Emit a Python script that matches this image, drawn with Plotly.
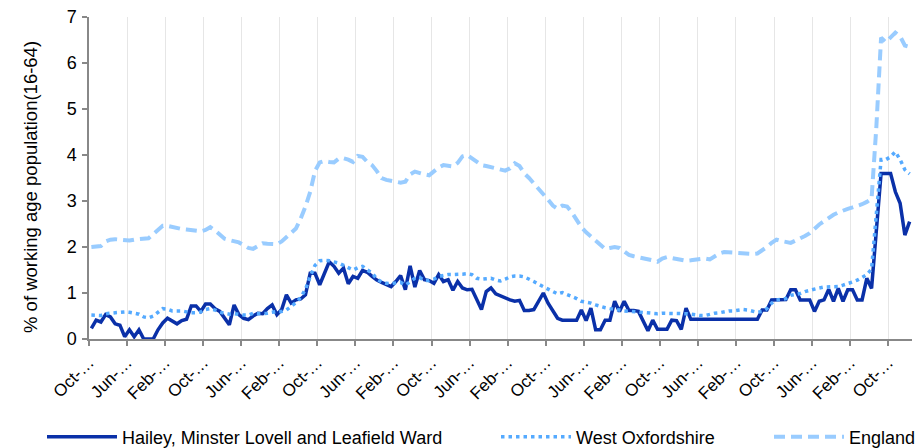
import plotly.graph_objects as go
import pandas as pd

# ---- categories (monthly) ----
months = [d.strftime("%b-%y") for d in pd.date_range("2006-10-01", periods=173, freq="MS")]

# ---- series values (% of working age population 16-64) ----
hailey = [
    0.23, 0.41, 0.37, 0.53, 0.48, 0.33, 0.30, 0.05, 0.20, 0.05,
    0.20, 0.00, 0.00, 0.00, 0.20, 0.35, 0.45, 0.38, 0.33, 0.40,
    0.43, 0.72, 0.72, 0.60, 0.76, 0.76, 0.66, 0.60, 0.45, 0.31,
    0.74, 0.53, 0.45, 0.42, 0.50, 0.56, 0.55, 0.66, 0.74, 0.53,
    0.64, 0.96, 0.78, 0.85, 0.87, 0.96, 1.43, 1.43, 1.18, 1.43,
    1.68, 1.58, 1.43, 1.54, 1.20, 1.36, 1.32, 1.49, 1.45, 1.36,
    1.28, 1.23, 1.18, 1.14, 1.25, 1.38, 1.07, 1.59, 1.13, 1.49,
    1.29, 1.27, 1.21, 1.40, 1.25, 1.29, 1.06, 1.25, 1.11, 1.07,
    1.08, 0.85, 0.64, 1.03, 1.11, 0.98, 0.93, 0.89, 0.85, 0.82,
    0.84, 0.62, 0.62, 0.64, 0.82, 1.00, 0.78, 0.62, 0.45, 0.41,
    0.41, 0.41, 0.41, 0.63, 0.40, 0.67, 0.20, 0.20, 0.41, 0.41,
    0.82, 0.60, 0.82, 0.62, 0.62, 0.60, 0.38, 0.18, 0.41, 0.21,
    0.21, 0.21, 0.41, 0.40, 0.21, 0.67, 0.43, 0.43, 0.43, 0.43,
    0.43, 0.43, 0.43, 0.43, 0.43, 0.43, 0.43, 0.43, 0.43, 0.43,
    0.43, 0.63, 0.63, 0.85, 0.85, 0.85, 0.86, 1.07, 1.07, 0.85,
    0.85, 0.85, 0.60, 0.82, 0.85, 1.08, 0.82, 1.10, 0.82, 1.07,
    1.07, 0.85, 0.85, 1.32, 1.10, 2.35, 3.60, 3.60, 3.60, 3.20,
    2.95, 2.26, 2.55,
]

west_oxfordshire = [
    0.52, 0.52, 0.51, 0.55, 0.56, 0.57, 0.58, 0.59, 0.58, 0.56,
    0.54, 0.48, 0.46, 0.50, 0.57, 0.66, 0.65, 0.61, 0.61, 0.61,
    0.59, 0.57, 0.57, 0.59, 0.64, 0.66, 0.63, 0.58, 0.56, 0.54,
    0.55, 0.53, 0.52, 0.52, 0.56, 0.55, 0.55, 0.56, 0.58, 0.60,
    0.60, 0.63, 0.71, 0.79, 0.90, 1.08, 1.36, 1.60, 1.70, 1.71,
    1.70, 1.68, 1.65, 1.60, 1.54, 1.50, 1.55, 1.58, 1.50, 1.44,
    1.30, 1.24, 1.21, 1.20, 1.22, 1.23, 1.17, 1.24, 1.32, 1.34,
    1.27, 1.27, 1.30, 1.36, 1.38, 1.40, 1.40, 1.40, 1.41, 1.42,
    1.40, 1.32, 1.30, 1.31, 1.32, 1.28, 1.26, 1.30, 1.35, 1.37,
    1.37, 1.35, 1.31, 1.25, 1.19, 1.14, 1.08, 1.02, 0.98, 1.01,
    0.97, 0.93, 0.88, 0.82, 0.80, 0.78, 0.74, 0.70, 0.68, 0.66,
    0.65, 0.63, 0.61, 0.60, 0.59, 0.58, 0.57, 0.56, 0.55, 0.55,
    0.56, 0.56, 0.56, 0.56, 0.56, 0.55, 0.54, 0.52, 0.51, 0.51,
    0.54, 0.56, 0.57, 0.59, 0.61, 0.61, 0.62, 0.64, 0.63, 0.61,
    0.58, 0.60, 0.66, 0.78, 0.85, 0.86, 0.88, 0.95, 0.97, 0.99,
    1.03, 1.06, 1.08, 1.11, 1.13, 1.13, 1.13, 1.14, 1.17, 1.20,
    1.24, 1.28, 1.33, 1.40, 1.52, 2.70, 3.90, 3.90, 3.96, 4.07,
    3.90, 3.68, 3.59,
]

england = [
    2.00, 2.00, 2.02, 2.12, 2.16, 2.17, 2.16, 2.14, 2.14, 2.16,
    2.17, 2.17, 2.19, 2.28, 2.38, 2.46, 2.46, 2.43, 2.40, 2.39,
    2.38, 2.36, 2.34, 2.34, 2.37, 2.43, 2.36, 2.27, 2.18, 2.15,
    2.12, 2.10, 2.04, 1.98, 1.96, 2.03, 2.08, 2.07, 2.06, 2.06,
    2.12, 2.22, 2.32, 2.40, 2.62, 2.88, 3.20, 3.65, 3.84, 3.87,
    3.85, 3.84, 3.92, 3.93, 3.90, 3.85, 3.98, 3.96, 3.85, 3.78,
    3.65, 3.50, 3.46, 3.44, 3.41, 3.40, 3.42, 3.58, 3.64, 3.60,
    3.58, 3.56, 3.66, 3.73, 3.78, 3.76, 3.75, 3.83, 3.97, 4.00,
    3.93, 3.84, 3.78, 3.76, 3.74, 3.71, 3.69, 3.66, 3.71, 3.82,
    3.76, 3.60, 3.50, 3.39, 3.28, 3.16, 3.03, 2.90, 2.83, 2.90,
    2.88, 2.75, 2.60, 2.43, 2.32, 2.23, 2.13, 2.04, 1.96, 1.98,
    2.00, 1.98, 1.90, 1.83, 1.80, 1.78, 1.76, 1.75, 1.71, 1.68,
    1.75, 1.78, 1.76, 1.74, 1.72, 1.70, 1.71, 1.73, 1.75, 1.75,
    1.73, 1.80, 1.86, 1.89, 1.88, 1.87, 1.86, 1.85, 1.84, 1.85,
    1.86, 1.92, 2.00, 2.09, 2.16, 2.13, 2.11, 2.09, 2.14, 2.18,
    2.24, 2.30, 2.40, 2.49, 2.56, 2.64, 2.70, 2.75, 2.80, 2.83,
    2.86, 2.89, 2.93, 2.98, 3.05, 4.60, 6.55, 6.45, 6.56, 6.66,
    6.58, 6.38, 6.35,
]

# ---- axis labels ----
tick_index = list(range(0, len(months), 8))
tick_labels = [months[i][:4] + "\u2026" for i in tick_index]   # e.g. "Oct-…"
y_ticks = [0, 1, 2, 3, 4, 5, 6, 7]
y_title = "% of working age population(16-64)"

x = list(range(len(months)))
FONT = "Liberation Sans, Arial, sans-serif"

fig = go.Figure()
fig.add_trace(go.Scatter(
    x=x, y=hailey, customdata=months, mode="lines",
    name="Hailey, Minster Lovell and Leafield Ward",
    line=dict(color="#0a30a8", width=3.5),
    hovertemplate="%{customdata}: %{y}<extra></extra>",
    legend="legend",
))
fig.add_trace(go.Scatter(
    x=x, y=west_oxfordshire, customdata=months, mode="lines",
    name="West Oxfordshire",
    line=dict(color="#55aaff", width=3.5, dash="3.5px,4px"),
    hovertemplate="%{customdata}: %{y}<extra></extra>",
    legend="legend2",
))
fig.add_trace(go.Scatter(
    x=x, y=england, customdata=months, mode="lines",
    name="England",
    line=dict(color="#99ccff", width=4, dash="11px,6px"),
    hovertemplate="%{customdata}: %{y}<extra></extra>",
    legend="legend3",
))

# the page body has an 8px margin, so the figure is sized/placed to compensate
W, H = 915, 440
L, R, T, B = 81, 11, 9, 109
pw, ph = W - L - R, H - T - B

def px_x(p):
    return (p - L) / pw

def px_y(p):
    return (H - B - p) / ph

leg_common = dict(orientation="h", yanchor="middle", xanchor="left",
                  font=dict(family=FONT, size=18, color="#000"),
                  bgcolor="rgba(0,0,0,0)", itemwidth=70, borderwidth=0)

fig.update_layout(
    width=W, height=H,
    margin=dict(l=L, r=R, t=T, b=B, autoexpand=False),
    paper_bgcolor="white", plot_bgcolor="white",
    font=dict(family=FONT, size=18, color="#000"),
    showlegend=True,
    legend=dict(x=px_x(34), y=px_y(429), **leg_common),
    legend2=dict(x=px_x(488), y=px_y(429), **leg_common),
    legend3=dict(x=px_x(761), y=px_y(429), **leg_common),
    annotations=[dict(
        text=y_title, textangle=-90, showarrow=False,
        xref="paper", yref="paper", x=px_x(22), y=px_y(179),
        xanchor="center", yanchor="middle",
        font=dict(family=FONT, size=18.5, color="#000"),
    )],
)

fig.update_xaxes(
    range=[-0.5, len(months) - 0.5],
    tickmode="array",
    tickvals=[i - 0.5 for i in tick_index],
    ticktext=tick_labels,
    tickangle=-45,
    tickfont=dict(family=FONT, size=17, color="#000"),
    ticks="outside", ticklen=5, tickcolor="#888", tickwidth=1.5,
    showline=True, linecolor="#888", linewidth=1.5,
    showgrid=True, gridcolor="#e6e6e6", gridwidth=1,
    zeroline=False, automargin=False,
)
fig.update_yaxes(
    range=[0, 7],
    tickmode="array", tickvals=y_ticks, ticktext=[str(v) for v in y_ticks],
    ticklabeloverflow="allow",
    ticklabelstandoff=2,
    tickfont=dict(family=FONT, size=18, color="#000"),
    ticks="outside", ticklen=5, tickcolor="#888", tickwidth=1.5,
    showline=True, linecolor="#888", linewidth=1.5,
    showgrid=False, zeroline=False, automargin=False,
)

fig.write_html("out.html")
